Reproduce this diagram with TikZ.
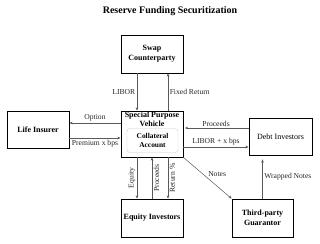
\documentclass[tikz,border=0pt]{standalone}
\usepackage{fontspec}
\setmainfont{Liberation Serif}
\usetikzlibrary{arrows.meta}

\begin{document}
\begin{tikzpicture}[
    x=1pt,
    y=-1pt,
    >={Stealth[length=3.2pt,width=2.6pt]},
    party/.style={draw, line width=0.8pt, minimum width=#1, align=center,
      inner sep=1pt, font=\fontsize{8}{10}\selectfont\bfseries},
    plainparty/.style={party=#1, font=\fontsize{8}{10}\selectfont},
    flow/.style={->, draw=black!65, line width=0.5pt},
    lbl/.style={font=\fontsize{7.6}{9}\selectfont, text=black!85, inner sep=1.5pt},
  ]
  \useasboundingbox (0,0) rectangle (320,243);

  % === Title ===
  \node[font=\fontsize{10}{12}\selectfont\bfseries] (title) at (170,11) {Reserve Funding Securitization};

  % === Parties ===
  \node[party=62pt, minimum height=38pt] (swap) at (152,54) {Swap\\Counterparty};
  \node[party=62pt, minimum height=46pt] (spv) at (152,134) {};
  \node[font=\fontsize{8}{9}\selectfont\bfseries, align=center, inner sep=0pt] (spvname)
    at (152,119.5) {Special Purpose\\Vehicle};
  \node[draw=black!20, rounded corners=3pt, minimum width=51pt, minimum height=24pt,
    align=center, inner sep=0pt, font=\fontsize{7.4}{8.4}\selectfont\bfseries] (coll)
    at (152.5,140.5) {Collateral\\Account};
  \node[party=62pt, minimum height=37pt] (insurer) at (38,129.5) {Life Insurer};
  \node[plainparty=63pt, minimum height=37pt] (debt) at (280.5,136.5) {Debt Investors};
  \node[party=62pt, minimum height=38pt] (equity) at (152,218) {Equity Investors};
  \node[party=61pt, minimum height=38pt] (guarantor) at (262.5,218) {Third-party\\Guarantor};

  % === Swap legs ===
  \draw[flow] ([xshift=-15pt]swap.south) -- ([xshift=-15pt]spv.north)
    node[lbl, midway, left] {LIBOR};
  \draw[flow] ([xshift=16pt]spv.north) -- ([xshift=16pt]swap.south)
    node[lbl, midway, right] {Fixed Return};

  % === Life insurer ===
  \draw[flow] (spv.west |- 0,123) -- (insurer.east |- 0,123)
    node[lbl, midway, above] {Option};
  \draw[flow] (insurer.east |- 0,138) -- (spv.west |- 0,138)
    node[lbl, midway, below] {Premium x bps};

  % === Debt investors ===
  \draw[flow, shorten >=1.5pt] (debt.west |- 0,128) -- (spv.east |- 0,128)
    node[lbl, midway, above] {Proceeds};
  \draw[flow] (spv.east |- 0,147) -- (debt.west |- 0,147)
    node[lbl, midway, above] {LIBOR + x bps};

  % === Equity investors ===
  \draw[flow] ([xshift=-15pt]spv.south) -- ([xshift=-15pt]equity.north)
    node[lbl, midway, rotate=90, anchor=south] {Equity};
  \draw[flow] (equity.north) -- (spv.south)
    node[lbl, midway, rotate=90, anchor=north] {Proceeds};
  \draw[flow] ([xshift=16pt]spv.south) -- ([xshift=16pt]equity.north)
    node[lbl, midway, rotate=90, anchor=north] {Return \%};

  % === Guarantor ===
  \draw[flow] (spv.south east) -- (guarantor.north west)
    node[lbl, midway, above right, xshift=-1pt] {Notes};
  \draw[flow, shorten >=4pt] (guarantor.north) -- (debt.south -| guarantor.north)
    node[lbl, midway, right] {Wrapped Notes};

\end{tikzpicture}
\end{document}
